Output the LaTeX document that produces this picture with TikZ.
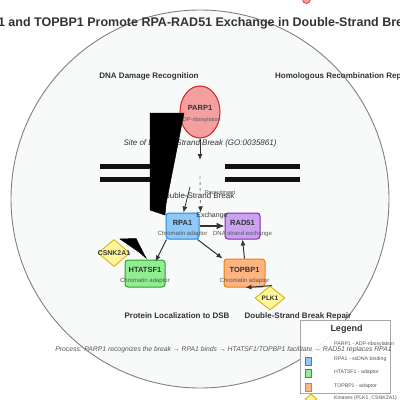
\documentclass[tikz,border=0pt]{standalone}
\usepackage{fontspec}
\setmainfont{Liberation Sans}
\usetikzlibrary{arrows.meta,shapes.geometric}
\definecolor{txt}{HTML}{333333}
\definecolor{subtxt}{HTML}{555555}
\definecolor{arrowc}{HTML}{333333}
\definecolor{bgc}{HTML}{F8F9F9}
\definecolor{parpF}{HTML}{F5A0A0}\definecolor{parpD}{HTML}{D62020}
\definecolor{rpaF}{HTML}{90C8F8}\definecolor{rpaD}{HTML}{1E88E5}
\definecolor{radF}{HTML}{C9A3F2}\definecolor{radD}{HTML}{8E24AA}
\definecolor{htaF}{HTML}{90EE90}\definecolor{htaD}{HTML}{2EA02E}
\definecolor{topF}{HTML}{FFB482}\definecolor{topD}{HTML}{F57C00}
\definecolor{kinF}{HTML}{FFF59D}\definecolor{kinD}{HTML}{D4B000}
\tikzset{
  sect/.style={font=\fontsize{8}{9}\selectfont\bfseries, text=txt, inner sep=0},
  boxnode/.style={draw, rounded corners=3pt, line width=1pt, minimum width=33pt, minimum height=26pt, inner sep=0},
  kin/.style={shape=diamond, draw=kinD, fill=kinF, line width=0.8pt, inner sep=0},
  ttl/.style={font=\fontsize{7.5}{9}\selectfont\bfseries, text=txt, inner sep=0},
  sub/.style={font=\fontsize{6}{7}\selectfont, text=subtxt, inner sep=0},
  arr/.style={-{Latex[length=6pt,width=5pt]}, line width=1pt, draw=arrowc},
  small/.style={font=\fontsize{5.6}{6.5}\selectfont, text=subtxt, inner sep=0},
  legtxt/.style={font=\fontsize{5.2}{6}\selectfont, text=subtxt, inner sep=0, anchor=west},
  legsq/.style={draw, line width=0.6pt, minimum width=6pt, minimum height=8pt, inner sep=0},
  blob/.style={fill=black, draw=black, line width=0.5pt},
  dna/.style={line width=4.7pt, draw=black!93}
}
\begin{document}
\begin{tikzpicture}[x=1pt,y=-1pt]
\useasboundingbox (0,0) rectangle (400,400);
\clip (0,0) rectangle (400,400);
\fill[white] (0,0) rectangle (400,400);
% background circle
\draw[fill=bgc, draw=black!50, line width=0.9pt] (200,199) circle[radius=189];
% stray red marker
\node[circle, fill=parpF, draw=parpD, line width=0.6pt, minimum size=8pt, inner sep=0] (dot) at (306.5,-0.5) {};
% title
\node[font=\fontsize{12.5}{14}\selectfont\bfseries, text=txt, inner sep=0, anchor=base] (title) at (205,26.5) {HTATSF1 and TOPBP1 Promote RPA-RAD51 Exchange in Double-Strand Break Repair};
% section labels
\node[sect] (s1) at (149,76) {DNA Damage Recognition};
\node[sect, anchor=west] (s2) at (275,76) {Homologous Recombination Repair};
\node[sect] (s3) at (177,316) {Protein Localization to DSB};
\node[sect] (s4) at (298,316) {Double-Strand Break Repair};
% DNA strands
\coordinate (l1a) at (100,166.3); \coordinate (l1b) at (168,166.3);
\coordinate (l2a) at (100,179.8); \coordinate (l2b) at (168,179.8);
\coordinate (r1a) at (225,166.3); \coordinate (r1b) at (300,166.3);
\coordinate (r2a) at (225,179.8); \coordinate (r2b) at (300,179.8);
\draw[dna] (l1a) -- (l1b); \draw[dna] (l2a) -- (l2b);
\draw[dna] (r1a) -- (r1b); \draw[dna] (r2a) -- (r2b);
% texts around break
\node[font=\fontsize{8}{9}\selectfont\itshape, text=txt, inner sep=0] (site) at (200,143) {Site of Double-Strand Break (GO:0035861)};
\node[font=\fontsize{8}{9}\selectfont, text=txt, inner sep=0] (dsbt) at (197,196) {Double-Strand Break};
\node[small] (recr) at (220,192) {Recruitment};
% PARP1
\node[ellipse, draw=parpD, fill=parpF, line width=1pt, minimum width=40pt, minimum height=52pt, inner sep=0] (parp) at (200,112) {};
\node[ttl] (parpT) at (200,108) {PARP1};
\node[font=\fontsize{5.6}{6.5}\selectfont, text=subtxt, inner sep=0] (parpS) at (200,120) {ADP-ribosylation};
% boxes
\node[boxnode, draw=rpaD, fill=rpaF] (rpa) at (182.5,226) {};
\node[boxnode, draw=radD, fill=radF, minimum width=35pt] (rad) at (242.5,226) {};
\node[boxnode, draw=htaD, fill=htaF, minimum width=40pt, minimum height=27pt] (hta) at (145,273.5) {};
\node[boxnode, draw=topD, fill=topF, minimum width=41pt, minimum height=28pt] (top) at (244.5,273) {};
\node[ttl] (rpaT) at (182.5,222.5) {RPA1};
\node[sub] (rpaS) at (182.5,233.5) {Chromatin adaptor};
\node[ttl] (radT) at (242.5,222.5) {RAD51};
\node[sub] (radS) at (242.5,233.5) {DNA strand exchange};
\node[ttl] (htaT) at (145,270) {HTATSF1};
\node[sub] (htaS) at (145,280.5) {Chromatin adaptor};
\node[ttl] (topT) at (244.5,270) {TOPBP1};
\node[sub] (topS) at (244.5,280.5) {Chromatin adaptor};
% kinases
\node[kin, minimum width=32pt, minimum height=27pt] (csn) at (114,253) {};
\node[font=\fontsize{6.9}{8}\selectfont\bfseries, text=txt, inner sep=0] (csnT) at (114,253) {CSNK2A1};
\node[kin, minimum width=30pt, minimum height=24pt] (plk) at (270,298) {};
\node[font=\fontsize{6.5}{8}\selectfont\bfseries, text=txt, inner sep=0] (plkT) at (270,298.5) {PLK1};
% connectors
\coordinate (brk) at (200,160);
\coordinate (dsh) at (200,176);
\coordinate (dsb) at (190,187);
\draw[arr] (parp.south) -- (brk);
\draw[dashed, draw=black!45, line width=0.9pt, -{Latex[length=6pt,width=5pt,color=arrowc]}] (dsh) -- ([xshift=1pt]rpa.north east);
\draw[arr, line width=0.8pt] (dsb) -- ([xshift=1pt]rpa.north);
\draw[arr, line width=1.3pt, -{Latex[length=8pt,width=7pt]}] (rpa.east) -- (rad.west);
\node[font=\fontsize{7}{8}\selectfont, text=txt, inner sep=0] (exch) at (212,216) {Exchange};
\draw[arr] ([xshift=1pt]rpa.south west) -- ([xshift=-10pt,yshift=-2pt]hta.north east);
\draw[arr] ([xshift=-2pt]rpa.south east) -- ([xshift=-1pt]top.north west);
\draw[arr] (top.north) -- (rad.south);
\draw[arr] ([xshift=2pt]plk.north) -- ([xshift=1pt]top.south);
% artefact wedges
\draw[blob] (150,113) -- (184,113) -- (166,204) -- (165,215) -- (150,210) -- cycle;
\draw[blob] (120,239) -- (136,238.5) -- (146,258) -- (139,252) -- cycle;
% legend
\node[draw=black!35, fill=white, fill opacity=0.9, line width=0.9pt, minimum width=90pt, minimum height=73pt, inner sep=0] (leg) at (345,356.5) {};
\node[font=\fontsize{9}{10}\selectfont\bfseries, text=txt, inner sep=0] (legT) at (346.5,329) {Legend};
\node[legtxt] (lg1) at (334,344.5) {PARP1 - ADP-ribosylation};
\node[legsq, draw=rpaD, fill=rpaF] (m2) at (308,361) {};
\node[legtxt] (lg2) at (334,359.5) {RPA1 - ssDNA binding};
\node[legsq, draw=htaD, fill=htaF] (m3) at (308,373.5) {};
\node[legtxt] (lg3) at (334,372.5) {HTATSF1 - adaptor};
\node[legsq, draw=topD, fill=topF] (m4) at (308,387.5) {};
\node[legtxt] (lg4) at (334,386) {TOPBP1 - adaptor};
\node[kin, minimum width=12pt, minimum height=10pt] (m5) at (311,399) {};
\node[legtxt] (lg5) at (334,398.5) {Kinases (PLK1, CSNK2A1)};
% process text
\node[font=\fontsize{6.8}{8}\selectfont\itshape, text=subtxt, inner sep=0] (proc) at (223.5,350) {Process: PARP1 recognizes the break → RPA1 binds → HTATSF1/TOPBP1 facilitate → RAD51 replaces RPA1};
\end{tikzpicture}
\end{document}
